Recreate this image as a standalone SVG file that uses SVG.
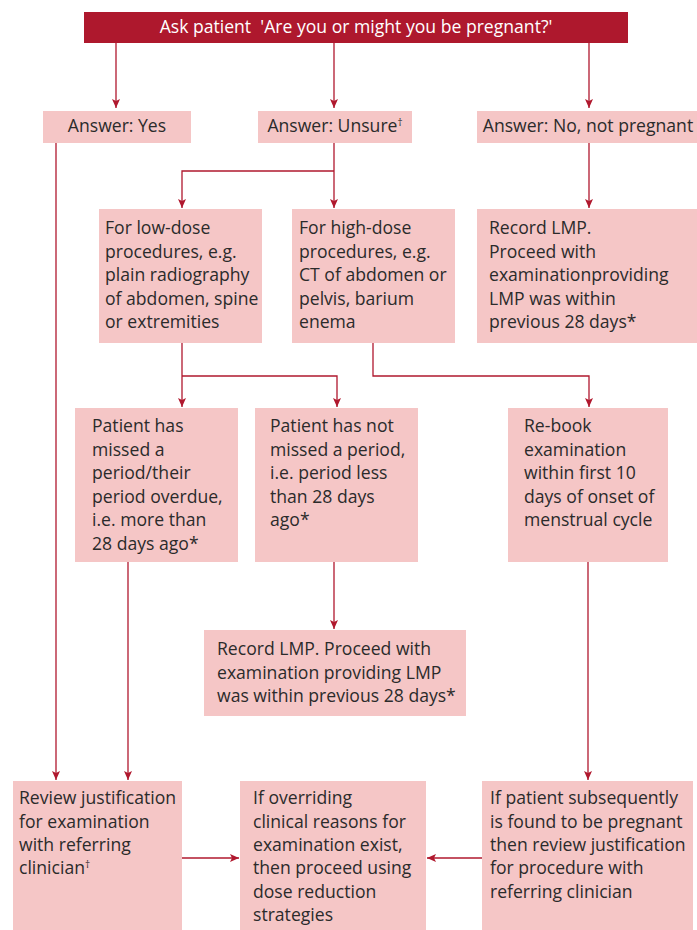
<svg xmlns="http://www.w3.org/2000/svg" width="697" height="930" viewBox="0 0 697 930">
<style>
.box{fill:#f5c6c6}
.t{font-family:"Open Sans","Noto Sans",sans-serif;font-size:17.6px;fill:#2b2b2b}
.w{font-family:"Open Sans","Noto Sans",sans-serif;font-size:17.6px;fill:#ffffff}
.c{fill:none;stroke:#b0182e;stroke-width:1.3}
</style>
<defs>
<marker id="ah" markerWidth="10" markerHeight="10" refX="9" refY="5" orient="auto" markerUnits="userSpaceOnUse">
<path d="M0,1 L9,5 L0,9 L2,5 z" fill="#b0182e"/>
</marker>
</defs>
<g id="connectors">
<path class="c" d="M116,42 V108" marker-end="url(#ah)"/>
<path class="c" d="M334,42 V108" marker-end="url(#ah)"/>
<path class="c" d="M589,42 V108" marker-end="url(#ah)"/>
<path class="c" d="M334,142 V208" marker-end="url(#ah)"/>
<path class="c" d="M334,171 H182 V208" marker-end="url(#ah)"/>
<path class="c" d="M589,142 V208" marker-end="url(#ah)"/>
<path class="c" d="M182,343 V407" marker-end="url(#ah)"/>
<path class="c" d="M182,376 H337 V407" marker-end="url(#ah)"/>
<path class="c" d="M373,343 V376 H589 V407" marker-end="url(#ah)"/>
<path class="c" d="M334,562 V629" marker-end="url(#ah)"/>
<path class="c" d="M56,142 V780" marker-end="url(#ah)"/>
<path class="c" d="M128,562 V780" marker-end="url(#ah)"/>
<path class="c" d="M588,562 V780" marker-end="url(#ah)"/>
<path class="c" d="M182,858 H239" marker-end="url(#ah)"/>
<path class="c" d="M482,858 H427" marker-end="url(#ah)"/>
</g>
<g id="ask">
<rect x="84" y="12" width="544" height="31" fill="#ae182d"/>
<text class="w" x="356" y="33" text-anchor="middle" xml:space="preserve">Ask patient  'Are you or might you be pregnant?'</text>
</g>
<g id="yes">
<rect class="box" x="43" y="111" width="148" height="32"/>
<text class="t" x="117" y="132" text-anchor="middle">Answer: Yes</text>
</g>
<g id="unsure">
<rect class="box" x="258" y="111" width="154" height="32"/>
<text class="t" x="335" y="132" text-anchor="middle">Answer: Unsure<tspan font-size="10" dy="-6">†</tspan></text>
</g>
<g id="no">
<rect class="box" x="477" y="111" width="220" height="32"/>
<text class="t" x="588" y="132" text-anchor="middle">Answer: No, not pregnant</text>
</g>
<g id="lowdose">
<rect class="box" x="99" y="209" width="163" height="134"/>
<text class="t" x="105" y="234">For low-dose</text>
<text class="t" x="105" y="258">procedures, e.g.</text>
<text class="t" x="105" y="281">plain radiography</text>
<text class="t" x="105" y="305">of abdomen, spine</text>
<text class="t" x="105" y="328">or extremities</text>
</g>
<g id="highdose">
<rect class="box" x="292" y="209" width="163" height="134"/>
<text class="t" x="299" y="234">For high-dose</text>
<text class="t" x="299" y="258">procedures, e.g.</text>
<text class="t" x="299" y="281">CT of abdomen or</text>
<text class="t" x="299" y="305">pelvis, barium</text>
<text class="t" x="299" y="328">enema</text>
</g>
<g id="recordlmp1">
<rect class="box" x="477" y="209" width="220" height="134"/>
<text class="t" x="489" y="234">Record LMP.</text>
<text class="t" x="489" y="258">Proceed with</text>
<text class="t" x="489" y="281">examinationproviding</text>
<text class="t" x="489" y="305">LMP was within</text>
<text class="t" x="489" y="328">previous 28 days*</text>
</g>
<g id="missed">
<rect class="box" x="75" y="408" width="163" height="154"/>
<text class="t" x="92" y="432">Patient has</text>
<text class="t" x="92" y="456">missed a</text>
<text class="t" x="92" y="479">period/their</text>
<text class="t" x="92" y="503">period overdue,</text>
<text class="t" x="92" y="526">i.e. more than</text>
<text class="t" x="92" y="550">28 days ago*</text>
</g>
<g id="notmissed">
<rect class="box" x="255" y="408" width="163" height="154"/>
<text class="t" x="270" y="432">Patient has not</text>
<text class="t" x="270" y="456">missed a period,</text>
<text class="t" x="270" y="479">i.e. period less</text>
<text class="t" x="270" y="503">than 28 days</text>
<text class="t" x="270" y="526">ago*</text>
</g>
<g id="rebook">
<rect class="box" x="508" y="408" width="160" height="154"/>
<text class="t" x="524" y="432">Re-book</text>
<text class="t" x="524" y="456">examination</text>
<text class="t" x="524" y="479">within first 10</text>
<text class="t" x="524" y="503">days of onset of</text>
<text class="t" x="524" y="526">menstrual cycle</text>
</g>
<g id="recordlmp2">
<rect class="box" x="204" y="630" width="262" height="86"/>
<text class="t" x="217" y="655">Record LMP. Proceed with</text>
<text class="t" x="217" y="679">examination providing LMP</text>
<text class="t" x="217" y="702">was within previous 28 days*</text>
</g>
<g id="review">
<rect class="box" x="13" y="781" width="169" height="149"/>
<text class="t" x="19" y="804">Review justification</text>
<text class="t" x="19" y="828">for examination</text>
<text class="t" x="19" y="851">with referring</text>
<text class="t" x="19" y="874">clinician<tspan font-size="10" dy="-6">†</tspan></text>
</g>
<g id="overriding">
<rect class="box" x="240" y="781" width="186" height="149"/>
<text class="t" x="253" y="804">If overriding</text>
<text class="t" x="253" y="828">clinical reasons for</text>
<text class="t" x="253" y="851">examination exist,</text>
<text class="t" x="253" y="874">then proceed using</text>
<text class="t" x="253" y="898">dose reduction</text>
<text class="t" x="253" y="921">strategies</text>
</g>
<g id="subsequently">
<rect class="box" x="482" y="781" width="211" height="149"/>
<text class="t" x="490" y="804">If patient subsequently</text>
<text class="t" x="490" y="828">is found to be pregnant</text>
<text class="t" x="490" y="851">then review justification</text>
<text class="t" x="490" y="874">for procedure with</text>
<text class="t" x="490" y="898">referring clinician</text>
</g>
</svg>
